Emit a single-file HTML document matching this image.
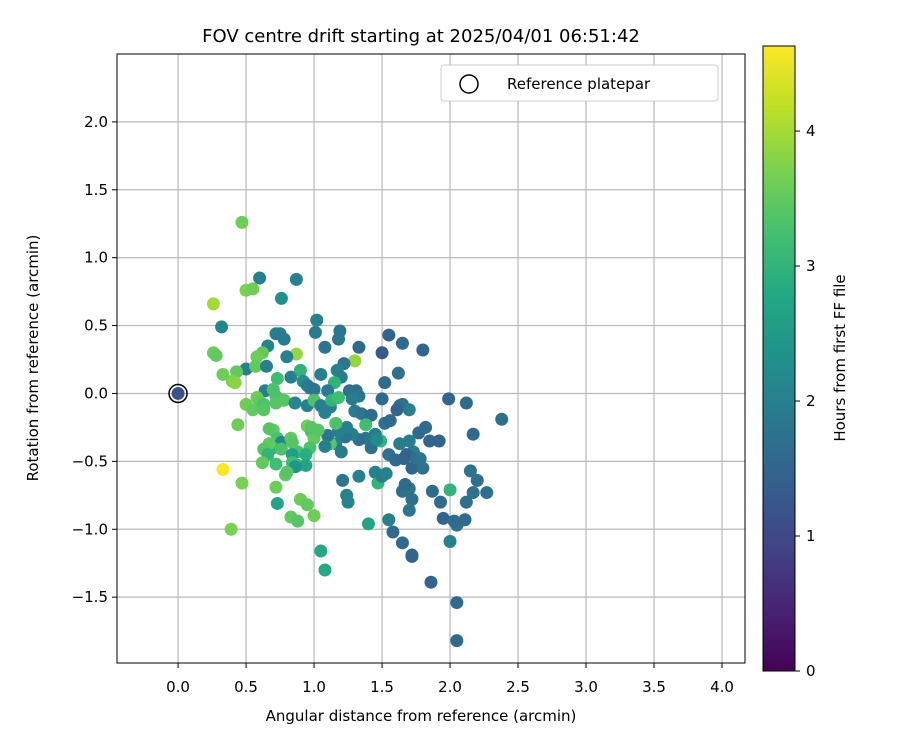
<!DOCTYPE html>
<html><head><meta charset="utf-8"><style>
body{margin:0;background:#fff;}
svg text{font-family:"DejaVu Sans","Liberation Sans",sans-serif;fill:#000;}
</style></head><body>
<svg id="chart" width="900" height="750" viewBox="0 0 900 750" xmlns="http://www.w3.org/2000/svg">
<defs>
<linearGradient id="vir" x1="0" y1="1" x2="0" y2="0">
<stop offset="0" stop-color="#440154"/><stop offset="0.1" stop-color="#482475"/><stop offset="0.2" stop-color="#414487"/><stop offset="0.3" stop-color="#355f8d"/><stop offset="0.4" stop-color="#2a788e"/><stop offset="0.5" stop-color="#21918c"/><stop offset="0.6" stop-color="#22a884"/><stop offset="0.7" stop-color="#44bf70"/><stop offset="0.8" stop-color="#7ad151"/><stop offset="0.9" stop-color="#bddf26"/><stop offset="1" stop-color="#fde725"/>
</linearGradient>
<clipPath id="clip"><rect x="117" y="54" width="628" height="609"/></clipPath>
</defs>
<g id="grid"></g>
<g id="points" clip-path="url(#clip)"></g>
<rect x="117" y="54" width="628" height="609" fill="none" stroke="#000" stroke-width="1"/>
<g id="axes"></g>
<text x="421" y="42" font-size="18" text-anchor="middle">FOV centre drift starting at 2025/04/01 06:51:42</text>
<text x="421" y="721" font-size="15" text-anchor="middle">Angular distance from reference (arcmin)</text>
<text x="38" y="358" font-size="15" text-anchor="middle" transform="rotate(-90 38 358)">Rotation from reference (arcmin)</text>
<g>
<rect x="441" y="65" width="277" height="36" rx="3" fill="#fff" stroke="#ccc"/>
<circle cx="469" cy="84" r="9" fill="none" stroke="#000" stroke-width="1.5"/>
<text x="507" y="89" font-size="15">Reference platepar</text>
</g>
<g>
<rect x="763" y="46" width="32" height="625" fill="url(#vir)" stroke="#000" stroke-width="1"/>
<g id="cbticks"></g>
<text x="845" y="358" font-size="15" text-anchor="middle" transform="rotate(-90 845 358)">Hours from first FF file</text>
</g>
</svg>
<script>
const xTicks=[0,0.5,1,1.5,2,2.5,3,3.5,4];
const yTicks=[-1.5,-1,-0.5,0,0.5,1,1.5,2];
const cbTicks=[0,1,2,3,4];
const refPoint=[0,0];
const xs=[0,0.47,0.60,0.87,0.50,0.55,0.76,0.26,0.32,1.02,1.01,0.72,0.75,0.78,0.66,1.19,1.18,1.08,0.26,0.28,0.62,0.58,0.87,0.80,0.50,1.33,1.30,1.55,1.65,1.50,1.80,1.62,0.33,0.43,0.40,0.42,0.57,0.65,0.73,0.83,0.90,0.92,1.05,1.22,1.17,1.20,1.15,0.64,0.70,0.72,0.78,0.58,0.60,0.95,0.97,1.00,1.10,1.26,1.31,1.33,1.52,0.50,0.55,0.63,0.63,0.72,0.86,0.95,1.00,1.05,1.08,1.12,1.13,1.18,1.28,1.30,1.35,1.42,1.50,1.52,1.56,1.63,1.65,1.70,1.61,1.99,2.12,2.38,2.17,1.82,1.77,1.85,1.92,1.70,1.63,1.73,1.55,1.60,1.66,1.68,1.72,1.75,1.80,1.78,1.45,1.42,1.38,1.33,1.28,1.23,1.24,1.18,1.16,1.20,1.12,1.10,1.08,1.16,1.38,1.49,1.46,0.95,0.98,1.00,0.98,1.03,0.97,0.88,0.94,0.70,0.67,0.73,0.76,0.70,0.67,0.63,0.66,0.62,0.76,0.83,0.84,0.84,0.84,0.88,0.94,0.86,0.72,0.44,0.33,0.47,0.39,0.72,0.79,0.80,0.73,0.90,0.95,0.83,0.88,1.00,1.05,1.08,1.21,1.24,1.25,1.33,1.40,1.45,1.47,1.50,1.53,1.55,1.58,1.65,1.70,1.67,1.72,1.70,1.65,1.72,1.72,1.87,1.86,1.93,1.95,2.00,2.00,2.05,2.03,2.11,2.12,2.15,2.20,2.27,2.17,2.05,2.05];
const ys=[0,1.26,0.85,0.84,0.76,0.77,0.70,0.66,0.49,0.54,0.45,0.44,0.44,0.40,0.35,0.46,0.40,0.34,0.30,0.28,0.30,0.27,0.29,0.27,0.18,0.34,0.24,0.43,0.37,0.30,0.32,0.15,0.14,0.16,0.09,0.08,0.20,0.20,0.11,0.12,0.17,0.09,0.14,0.22,0.17,0.12,0.08,0.02,0.03,-0.02,-0.05,-0.03,-0.06,0.06,0.04,0.03,0.02,0.02,0.02,-0.02,0.08,-0.08,-0.12,-0.08,-0.12,-0.07,-0.07,-0.09,-0.05,-0.09,-0.14,-0.10,-0.05,-0.03,-0.04,-0.13,-0.15,-0.16,-0.04,-0.22,-0.20,-0.09,-0.08,-0.12,-0.12,-0.04,-0.07,-0.19,-0.30,-0.25,-0.29,-0.35,-0.35,-0.35,-0.37,-0.43,-0.45,-0.49,-0.48,-0.45,-0.55,-0.48,-0.55,-0.48,-0.30,-0.40,-0.33,-0.34,-0.30,-0.32,-0.25,-0.28,-0.37,-0.43,-0.37,-0.31,-0.39,-0.22,-0.23,-0.35,-0.34,-0.24,-0.28,-0.33,-0.25,-0.27,-0.40,-0.43,-0.45,-0.27,-0.26,-0.33,-0.36,-0.40,-0.37,-0.41,-0.45,-0.51,-0.41,-0.33,-0.36,-0.45,-0.51,-0.53,-0.53,-0.54,-0.52,-0.23,-0.56,-0.66,-1.00,-0.69,-0.60,-0.58,-0.81,-0.78,-0.82,-0.91,-0.94,-0.90,-1.16,-1.30,-0.64,-0.75,-0.80,-0.61,-0.96,-0.58,-0.66,-0.61,-0.59,-0.93,-1.02,-0.72,-0.70,-0.67,-0.78,-0.86,-1.10,-1.20,-1.19,-0.72,-1.39,-0.80,-0.92,-0.71,-1.09,-0.97,-0.94,-0.93,-0.80,-0.57,-0.64,-0.73,-0.73,-1.54,-1.82];
const hours=[1.2,3.6,2.0,2.0,3.7,3.6,2.3,4.0,2.1,2.0,1.9,2.0,1.9,1.9,2.1,1.8,1.8,1.8,3.6,3.5,3.5,3.6,3.9,2.0,2.0,1.6,3.9,1.5,1.6,1.3,1.5,1.7,3.6,3.5,3.7,3.8,3.5,2.0,3.2,2.0,3.0,2.3,2.0,1.8,2.0,1.9,3.0,2.0,3.3,3.3,3.4,3.6,3.5,1.9,1.9,1.8,1.9,1.7,1.7,1.8,1.6,3.6,3.5,3.3,3.4,3.4,2.1,2.0,3.3,1.9,2.0,2.0,3.0,3.2,1.9,1.9,1.8,1.6,1.6,1.7,1.6,1.7,1.7,2.0,1.5,1.5,1.6,1.7,1.6,1.6,1.6,1.5,1.5,2.0,1.9,1.9,1.7,1.6,1.5,1.5,1.5,1.7,1.7,1.8,1.9,1.7,1.8,1.7,2.0,1.8,2.0,2.0,2.0,1.9,3.4,1.8,2.0,3.3,3.2,3.0,2.2,3.6,3.3,3.5,3.4,3.4,3.3,3.3,2.9,3.5,3.4,3.3,2.1,3.0,3.5,3.4,3.0,3.5,3.3,3.5,3.4,2.6,3.2,3.1,2.7,2.4,3.2,3.6,4.6,3.7,3.7,3.6,3.5,3.4,2.7,3.6,3.5,3.5,3.4,3.6,2.8,2.8,1.8,2.0,2.1,2.0,2.7,2.0,3.0,1.9,2.0,2.0,1.6,1.7,1.8,1.6,1.7,1.8,1.6,1.5,1.5,1.6,1.5,1.6,1.5,3.0,2.0,1.7,1.6,1.6,1.7,1.8,1.7,1.7,1.7,1.6,1.6];

const NS='http://www.w3.org/2000/svg';
const L=117,R=745,T=54,B=663;
const xMin=-0.449,xMax=4.169,yMin=-1.985,yMax=2.5;
const cMin=0,cMax=4.63,cTop=46,cBot=671;
const sx=v=>L+(v-xMin)/(xMax-xMin)*(R-L);
const sy=v=>B-(v-yMin)/(yMax-yMin)*(B-T);
const sc=v=>cBot-(v-cMin)/(cMax-cMin)*(cBot-cTop);
const stops=['#440154','#482475','#414487','#355f8d','#2a788e','#21918c','#22a884','#44bf70','#7ad151','#bddf26','#fde725'];
function hex(h){return [1,3,5].map(i=>parseInt(h.substr(i,2),16));}
function vir(v){let t=Math.max(0,Math.min(1,(v-cMin)/(cMax-cMin)))*10;let i=Math.min(9,Math.floor(t));let f=t-i;let a=hex(stops[i]),b=hex(stops[i+1]);return 'rgb('+a.map((c,k)=>Math.round(c+(b[k]-c)*f)).join(',')+')';}
function mk(tag,attrs,parent){const e=document.createElementNS(NS,tag);for(const k in attrs)e.setAttribute(k,attrs[k]);parent.appendChild(e);return e;}
const grid=document.getElementById('grid'),axes=document.getElementById('axes'),pts=document.getElementById('points'),cbt=document.getElementById('cbticks');
xTicks.forEach(v=>{const x=sx(v);
 const g=mk('line',{x1:x,x2:x,y1:T,y2:B,stroke:'#b8b8b8','stroke-width':1.2},grid);
 
 
 mk('line',{x1:x,x2:x,y1:B,y2:B+5,stroke:'#000'},axes);
 const t=mk('text',{x:x,y:B+29,'font-size':15,'text-anchor':'middle'},axes);t.textContent=v.toFixed(1);
 
 });
yTicks.forEach(v=>{const y=sy(v);
 const g=mk('line',{x1:L,x2:R,y1:y,y2:y,stroke:'#b8b8b8','stroke-width':1.2},grid);
 
 
 mk('line',{x1:L-5,x2:L,y1:y,y2:y,stroke:'#000'},axes);
 const t=mk('text',{x:L-9,y:y+5,'font-size':15,'text-anchor':'end'},axes);t.textContent=(v<0?'\u2212':'')+Math.abs(v).toFixed(1);
 
 });
xs.forEach((v,i)=>{const c=mk('circle',{cx:sx(v),cy:sy(ys[i]),r:6.5,fill:vir(hours[i])},pts);
 
 });
const rc=mk('circle',{cx:sx(refPoint[0]),cy:sy(refPoint[1]),r:9,fill:'none',stroke:'#000','stroke-width':1.5},pts);


cbTicks.forEach(v=>{const y=sc(v);
 mk('line',{x1:795,x2:800,y1:y,y2:y,stroke:'#000'},cbt);
 const t=mk('text',{x:806,y:y+5,'font-size':15},cbt);t.textContent=v;
 
 });
</script>
</body></html>
